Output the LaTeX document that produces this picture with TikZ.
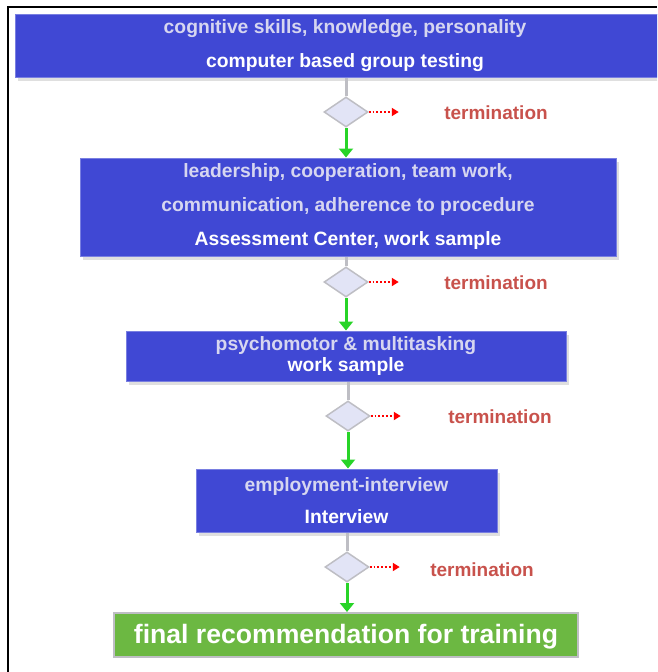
\documentclass[tikz,border=0pt]{standalone}
\usepackage{fontspec}
\setmainfont{Liberation Sans}
\usepackage{xcolor}
\usetikzlibrary{shapes.geometric,shadows,positioning,arrows.meta}

\definecolor{stageblue}{RGB}{64,72,212}
\definecolor{lavender}{RGB}{214,214,240}
\definecolor{gatefill}{RGB}{226,228,246}
\definecolor{gateline}{RGB}{190,190,196}
\definecolor{okgreen}{RGB}{40,212,40}
\definecolor{termred}{RGB}{200,82,76}
\definecolor{finalgreen}{RGB}{108,184,66}

\begin{document}
\begin{tikzpicture}[x=1pt, y=-1pt,
  stage/.style={rectangle, fill=stageblue, draw=stageblue!70!white, line width=1pt, inner sep=0pt, align=center, text=white, font=\bfseries\fontsize{19.3}{34}\selectfont, drop shadow={shadow xshift=3pt, shadow yshift=-4pt, opacity=0.25}},
  final/.style={rectangle, fill=finalgreen, draw=gateline, line width=2pt, inner sep=0pt, text=white, font=\bfseries\fontsize{26.6}{30}\selectfont},
  gate/.style={diamond, aspect=1.5, fill=gatefill, draw=gateline, line width=1.5pt, minimum width=44pt, minimum height=30pt, inner sep=0pt},
  link/.style={gateline, line width=3pt},
  pass/.style={okgreen, line width=3pt, -{Triangle[length=9pt,width=14pt]}},
  fail/.style={red, dotted, line width=1.8pt, -{Triangle[length=7pt,width=8pt]}},
  stop/.style={text=termred, font=\bfseries\fontsize{19}{22}\selectfont}]
  \clip (0,0) rectangle (657,672);
  \draw[line width=2pt] (8,672) -- (8,7) -- (657,7);

  \node[stage, minimum width=660pt, minimum height=63pt] (s1) at (345,45.5)
    {\textcolor{lavender}{cognitive skills, knowledge, personality}\\ computer based group testing};
  \node[gate] (g1) at (346,112) {};
  \node[stage, minimum width=536pt, minimum height=98pt] (s2) at (348,207)
    {\textcolor{lavender}{leadership, cooperation, team work,}\\ \textcolor{lavender}{communication, adherence to procedure}\\ Assessment Center, work sample};
  \node[gate] (g2) at (346,282) {};
  \node[stage, minimum width=440pt, minimum height=50pt, font=\bfseries\fontsize{19.3}{21}\selectfont] (s3) at (346,356)
    {\textcolor{lavender}{psychomotor \& multitasking}\\ work sample};
  \node[gate] (g3) at (348,416) {};
  \node[stage, minimum width=301pt, minimum height=63pt, font=\bfseries\fontsize{19.3}{32}\selectfont] (s4) at (346.5,500.5)
    {\textcolor{lavender}{employment-interview}\\ Interview};
  \node[gate] (g4) at (347,567) {};
  \node[final, minimum width=464pt, minimum height=44pt, text height=19pt, text depth=2pt] (s5) at (346,635) {final recommendation for training};

  \node[stop] (t1) at (496,113) {termination};
  \node[stop] (t2) at (496,283) {termination};
  \node[stop] (t3) at (500,417) {termination};
  \node[stop] (t4) at (482,570) {termination};
  \coordinate[right=30pt of g1] (e1);
  \coordinate[right=30pt of g2] (e2);
  \coordinate[right=30pt of g3] (e3);
  \coordinate[right=30pt of g4] (e4);

  % gray lines into the gates
  \draw[link] (g1.north |- s1.south) -- (g1.north);
  \draw[link] (g2.north |- s2.south) -- (g2.north);
  \draw[link] (g3.north |- s3.south) -- (g3.north);
  \draw[link] (g4.north |- s4.south) -- (g4.north);
  % passed
  \draw[pass] (g1.south) -- (g1.south |- s2.north);
  \draw[pass] (g2.south) -- (g2.south |- s3.north);
  \draw[pass] (g3.south) -- (g3.south |- s4.north);
  \draw[pass] (g4.south) -- (g4.south |- s5.north);
  % failed
  \draw[fail] (g1.east) -- (e1);
  \draw[fail] (g2.east) -- (e2);
  \draw[fail] (g3.east) -- (e3);
  \draw[fail] (g4.east) -- (e4);
\end{tikzpicture}
\end{document}
